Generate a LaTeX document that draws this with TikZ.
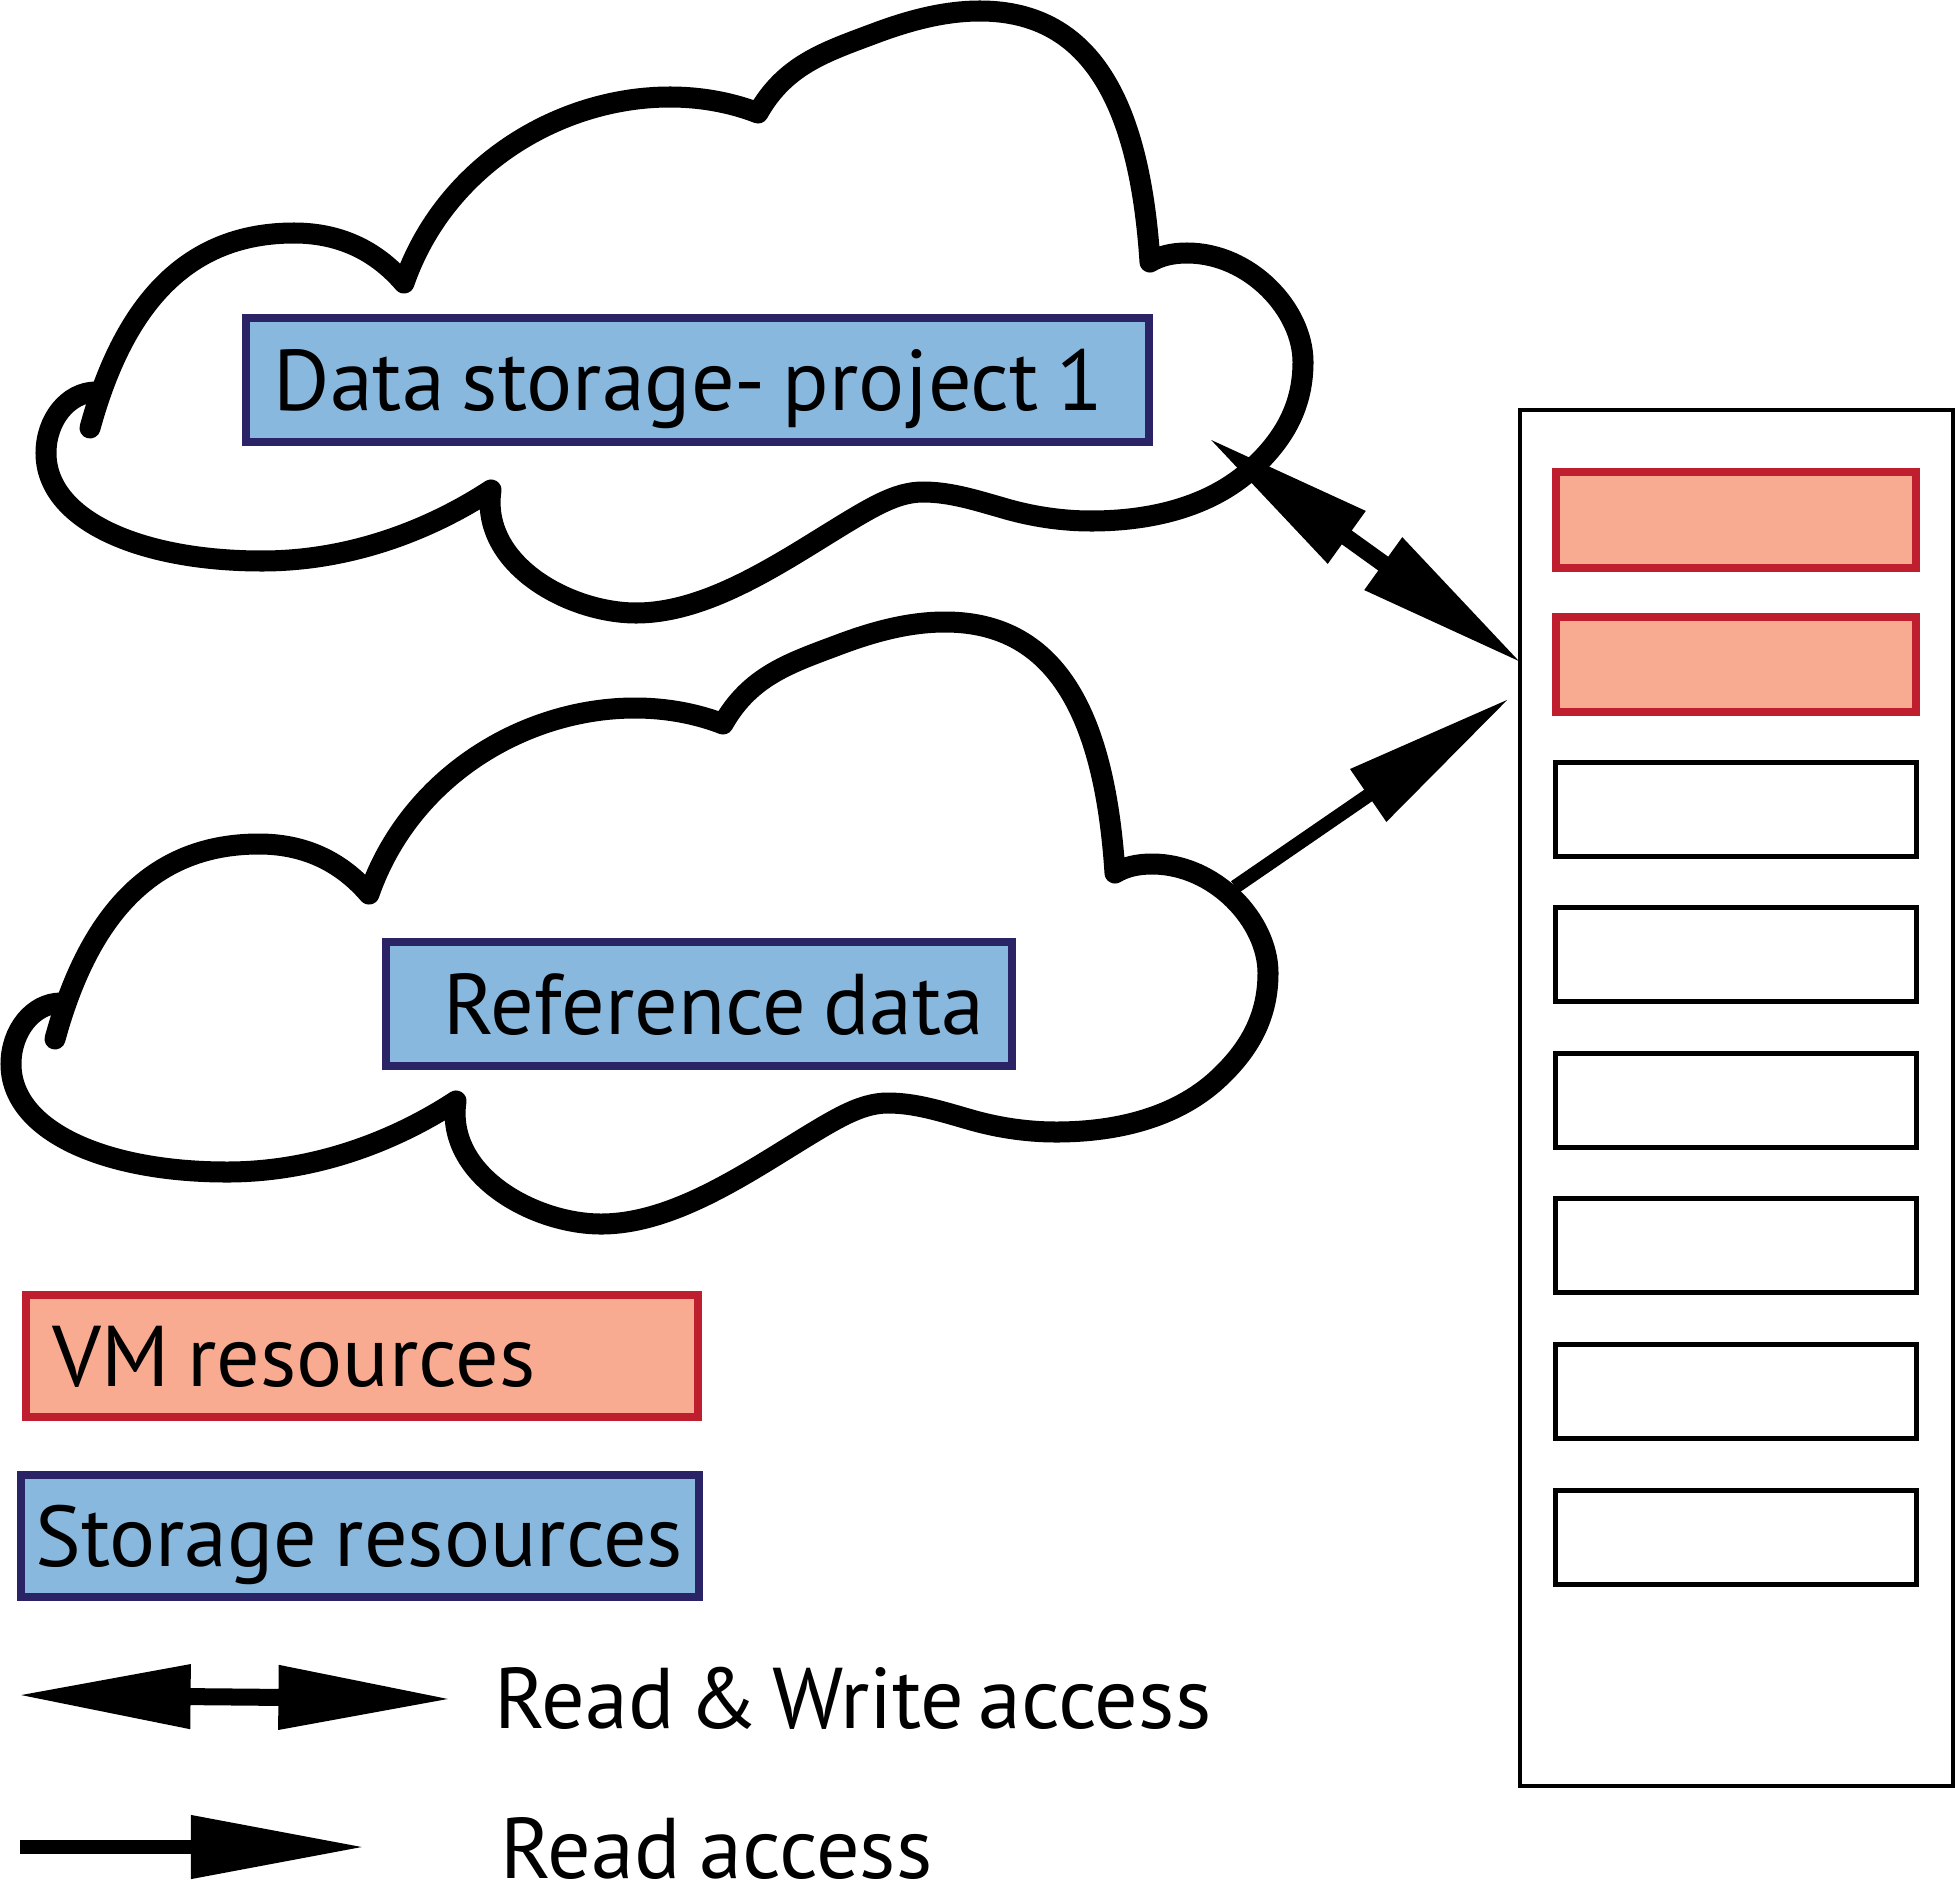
\documentclass[tikz,border=0pt]{standalone}
\usepackage{fontspec}
\setmainfont[WordSpace=0.6]{PT Sans}
\usetikzlibrary{arrows.meta}
\usetikzlibrary{positioning}
\definecolor{storefill}{HTML}{88B8DD}
\definecolor{storeline}{HTML}{2A2466}
\definecolor{vmfill}{HTML}{F8AB90}
\definecolor{vmline}{HTML}{BE1E2D}
\newcommand{\cloudoutline}{%
  (90,428) .. controls (125,300) and (190,233) .. (294,233)
  .. controls (345,233) and (380,255) .. (404,283)
  .. controls (445,165) and (560,97) .. (670,97)
  .. controls (705,97) and (735,104) .. (758,113)
  .. controls (785,65) and (825,52) .. (873,34)
  .. controls (910,20) and (945,11) .. (980,11)
  .. controls (1095,11) and (1140,110) .. (1150,262)
  .. controls (1160,256) and (1172,253) .. (1187,253)
  .. controls (1250,253) and (1303,310) .. (1303,362)
  .. controls (1303,405) and (1285,437) .. (1256,465)
  .. controls (1215,505) and (1155,521) .. (1091,521)
  .. controls (1060,521) and (1030,516) .. (1003,508)
  .. controls (975,500) and (950,492) .. (923,492)
  .. controls (895,492) and (870,508) .. (823,537)
  .. controls (765,573) and (700,613) .. (636,613)
  .. controls (570,613) and (480,565) .. (491,490)
  .. controls (430,530) and (350,561) .. (262,561)
  .. controls (140,561) and (46,520) .. (46,453)
  .. controls (46,420) and (68,392) .. (96,392)}
\tikzset{
  cloudline/.style={draw, line width=0.21cm, line cap=round, line join=round},
  storebox/.style={draw=storeline, fill=storefill, line width=0.08cm, outer sep=0pt, inner sep=0pt, minimum height=1.24cm, text height=0.6cm, text depth=0pt, execute at begin node={\spaceskip=0.2em\relax}},
  vmbox/.style={draw=vmline, fill=vmfill, line width=0.08cm, outer sep=0pt, inner sep=0pt, text height=0.6cm, text depth=0pt, execute at begin node={\spaceskip=0.2em\relax}},
  slot/.style={draw, line width=0.05cm, minimum width=3.6cm, minimum height=0.94cm, outer sep=0pt},
  rwline/.style={line width=0.17cm, {Triangle[length=#1,width=0.6cm]}-{Triangle[length=#1,width=0.6cm]}},
  roline/.style={line width=0.14cm, -{Triangle[length=#1,width=0.6cm]}},
  note/.style={anchor=west, inner sep=0pt}
}
\begin{document}
\begin{tikzpicture}[x=0.01cm, y=-0.01cm, font=\fontsize{24.5}{28}\selectfont]
    \useasboundingbox (0,0) rectangle (1955,1900);

    % Clouds
    \path [cloudline] \cloudoutline;
    \path [cloudline, shift={(-35,611)}] \cloudoutline;

    % Storage and VM boxes
    \node [storebox, minimum width=9.03cm, text width=9.03cm] (project) at (697.5,380) {\hspace*{0.28cm}Data storage- project 1};
    \node [storebox, minimum width=6.26cm, text width=6.26cm] (reference) at (699,1004) {\hspace*{0.58cm}Reference data};
    \node [vmbox, minimum width=6.72cm, text width=6.72cm, minimum height=1.21cm] (vmkey) at (362,1356) {\hspace*{0.27cm}VM resources};
    \node [storebox, minimum width=6.77cm, text width=6.77cm, minimum height=1.21cm] (storagekey) at (360,1536) {\hspace*{0.14cm}Storage resources};

    % Rack
    \node [draw, line width=0.04cm, minimum width=4.33cm, minimum height=13.755cm, outer sep=0pt] (rack) at (1736.5,1097.7) {};
    \node [vmbox, minimum width=3.6cm, minimum height=0.95cm] (vmone) at (1736,520) {};
    \node [vmbox, minimum width=3.6cm, minimum height=0.95cm, below=0.495cm of vmone] (vmtwo) {};
    \node [slot, below=0.5cm of vmtwo] (slotone) {};
    \foreach \prev/\this in {slotone/slottwo, slottwo/slotthree, slotthree/slotfour, slotfour/slotfive, slotfive/slotsix}
        \node [slot, below=0.515cm of \prev] (\this) {};

    % Access arrows
    \coordinate (rwend) at (1207,437);
    \coordinate (rwtip) at (1523,664);
    \coordinate (rostart) at (1235,887);
    \coordinate (rotip) at (1510,698);
    \draw [rwline=1.72cm] (rwend) -- (rwtip);
    \draw [roline=1.72cm] (rostart) -- (rotip);

    % Legend
    \coordinate (rwleft) at (16,1695);
    \coordinate (rwright) at (453,1699);
    \coordinate (roleft) at (20,1847);
    \coordinate (roright) at (365,1847);
    \draw [rwline=1.745cm] (rwleft) -- (rwright);
    \draw [roline=1.74cm] (roleft) -- (roright);
    \node [note] (rwnote) at (494,1698) {Read \& Write access};
    \node [note] (ronote) at (500,1848) {Read\hspace{0.05cm} access};
\end{tikzpicture}
\end{document}
